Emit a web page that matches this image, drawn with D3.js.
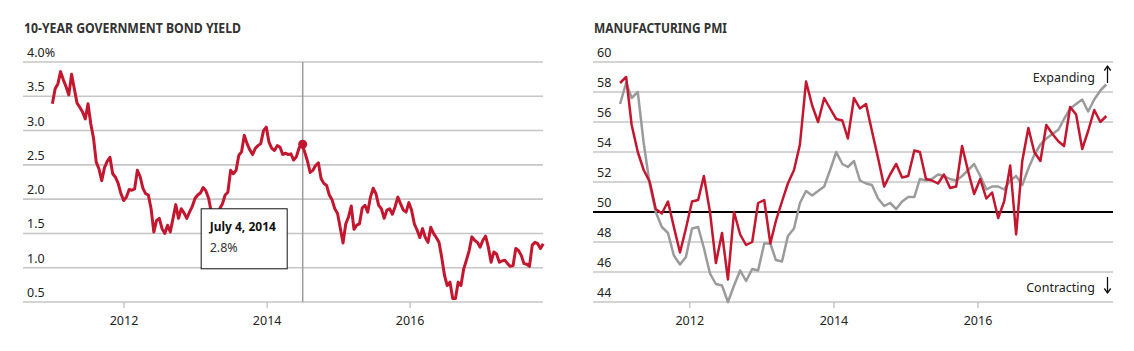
<!DOCTYPE html>
<html>
<head>
<meta charset="utf-8">
<script src="https://cdn.jsdelivr.net/npm/d3@7/dist/d3.min.js"></script>
<style>
  body { margin: 0; background: #fff; }
  svg text { font-family: "Noto Sans", "Open Sans", sans-serif; fill: #222; }
</style>
</head>
<body>
<div id="chart"></div>
<script>
// ---------- data

// 10-year gilt yield, one reading every two weeks from 3 Jan 2011
const yieldStart = "2011-01-03"
const yieldStepDays = 14
const yieldValues = [
  3.39, 3.61, 3.68, 3.86, 3.74, 3.64, 3.52, 3.82, 3.61, 3.40,
  3.34, 3.27, 3.17, 3.39, 3.10, 2.89, 2.54, 2.44, 2.27, 2.46,
  2.55, 2.61, 2.37, 2.32, 2.23, 2.08, 1.98, 2.03, 2.14, 2.13,
  2.15, 2.42, 2.33, 2.16, 2.08, 2.06, 1.86, 1.52, 1.69, 1.72,
  1.57, 1.50, 1.62, 1.52, 1.72, 1.92, 1.72, 1.86, 1.80, 1.72,
  1.81, 1.89, 2.01, 2.06, 2.09, 2.17, 2.12, 2.01, 1.80, 1.68,
  1.72, 1.86, 1.93, 2.06, 2.10, 2.42, 2.37, 2.42, 2.64, 2.69,
  2.93, 2.81, 2.72, 2.65, 2.74, 2.78, 2.81, 3.00, 3.05, 2.83,
  2.74, 2.71, 2.78, 2.76, 2.65, 2.67, 2.65, 2.66, 2.57, 2.62,
  2.75, 2.80, 2.69, 2.56, 2.39, 2.42, 2.49, 2.53, 2.30, 2.23,
  2.20, 2.06, 1.99, 1.86, 1.79, 1.58, 1.36, 1.64, 1.74, 1.90,
  1.56, 1.62, 1.64, 1.87, 1.91, 1.81, 2.03, 2.16, 2.08, 1.91,
  1.86, 1.72, 1.84, 1.86, 1.78, 1.89, 2.03, 1.93, 1.84, 1.81,
  1.95, 1.84, 1.64, 1.55, 1.44, 1.57, 1.44, 1.37, 1.59, 1.50,
  1.44, 1.37, 1.15, 0.89, 0.74, 0.79, 0.55, 0.55, 0.79, 0.74,
  0.98, 1.11, 1.25, 1.45, 1.40, 1.37, 1.30, 1.40, 1.46, 1.30,
  1.08, 1.23, 1.20, 1.08, 1.10, 1.11, 1.06, 1.02, 1.03, 1.28,
  1.25, 1.18, 1.06, 1.05, 1.02, 1.33, 1.37, 1.35, 1.28, 1.35
]
const yieldTicks = [0.5, 1.0, 1.5, 2.0, 2.5, 3.0, 3.5, 4.0]

// highlighted point + tooltip
const highlightDate = "2014-07-04"
const highlightValue = 2.8
const highlightLabel = ["July 4, 2014", "2.8%"]

// manufacturing PMI, monthly Jan 2011 - Oct 2017
const pmiFirstMonth = "2011-01-15"
const pmiRed = [
  58.6, 59.0, 55.8, 54.0, 52.8, 52.0, 50.2, 49.9, 50.7, 49.0, 47.3, 48.9,
  50.7, 50.8, 52.4, 50.0, 46.6, 48.6, 45.5, 50.0, 48.5, 47.8, 48.0, 50.6,
  50.8, 47.9, 49.4, 50.7, 51.9, 52.8, 54.5, 58.7, 57.1, 56.0, 57.6, 56.9,
  56.2, 56.1, 54.9, 57.6, 56.9, 57.2, 55.4, 53.6, 51.7, 52.5, 53.2, 52.3,
  52.4, 54.1, 54.0, 52.2, 52.1, 51.9, 52.5, 51.6, 51.7, 54.4, 52.7, 51.2,
  52.2, 50.9, 51.3, 49.6, 50.7, 53.1, 48.5, 53.4, 55.6, 54.0, 53.4, 55.8,
  55.2, 54.7, 54.4, 57.0, 56.5, 54.2, 55.4, 56.8, 56.0, 56.4
]
const pmiGray = [
  57.2, 58.6, 57.6, 58.0, 54.6, 51.8, 50.0, 49.0, 48.6, 47.1, 46.5, 47.0,
  48.9, 49.0, 47.6, 45.9, 45.2, 45.1, 44.0, 45.1, 46.1, 45.4, 46.2, 46.1,
  47.9, 47.9, 46.8, 46.7, 48.4, 48.9, 50.6, 51.4, 51.1, 51.4, 51.7, 52.8,
  54.0, 53.2, 53.0, 53.4, 52.1, 51.9, 51.8, 50.9, 50.4, 50.6, 50.2, 50.7,
  51.0, 51.0, 52.2, 52.1, 52.2, 52.5, 52.4, 52.2, 52.1, 52.4, 52.8, 53.2,
  52.4, 51.5, 51.7, 51.7, 51.5, 52.1, 52.4, 51.8, 52.9, 53.8, 54.5, 54.9,
  55.2, 55.5, 56.2, 56.9, 57.2, 57.5, 56.7, 57.5, 58.1, 58.5
]
const pmiTicks = [44, 46, 48, 50, 52, 54, 56, 58, 60]
const pmiThreshold = 50

const yearTicks = [2012, 2014, 2016]

// ---------- layout

const width = 1134
const height = 351
const plotTop = 62
const plotBottom = 302
const red = "#c3162f"
const grid = "#c6c6c6"

const parse = d3.timeParse("%Y-%m-%d")

const svg = d3.select("#chart").append("svg")
  .attr("width", width)
  .attr("height", height)

const yieldData = yieldValues.map((v, i) => ({
  date: d3.timeDay.offset(parse(yieldStart), i * yieldStepDays),
  value: v
}))
const pmiDates = d3.range(pmiRed.length).map(i => d3.timeMonth.offset(parse(pmiFirstMonth), i))

function drawPanel(opts) {
  const g = svg.append("g")

  const x = d3.scaleTime().domain(opts.xDomain).range([opts.left, opts.right])
  const y = d3.scaleLinear().domain(opts.yDomain).range([plotBottom, plotTop])

  // title
  g.append("text")
    .attr("x", opts.left + 1)
    .attr("y", 33)
    .attr("font-size", 13.5)
    .attr("font-weight", 700)
    .attr("textLength", opts.titleWidth)
    .attr("lengthAdjust", "spacingAndGlyphs")
    .style("fill", "#333")
    .text(opts.title)

  // gridlines
  g.append("g").selectAll("line")
    .data(opts.ticks)
    .join("line")
    .attr("x1", opts.left).attr("x2", opts.right)
    .attr("y1", d => y(d)).attr("y2", d => y(d))
    .attr("stroke", grid)
    .attr("stroke-width", 1.6)

  // y labels sit above each gridline
  g.append("g").selectAll("text")
    .data(opts.ticks)
    .join("text")
    .attr("x", opts.left + 4)
    .attr("y", d => y(d) - 5)
    .attr("font-size", 12.5)
    .text((d, i) => opts.tickFormat(d, i))

  // x axis
  const xAxis = d3.axisBottom(x)
    .tickValues(yearTicks.map(yr => new Date(yr, 0, 1)))
    .tickSize(6)
    .tickFormat(d3.timeFormat("%Y"))

  const ax = g.append("g")
    .attr("transform", `translate(0,${plotBottom})`)
    .call(xAxis)
  ax.attr("font-family", null)
  ax.select(".domain").remove()
  ax.selectAll(".tick line").attr("stroke", "#bbb").attr("stroke-width", 1.2)
  ax.selectAll(".tick text")
    .attr("y", 14)
    .attr("font-size", 12.5)
    .style("fill", "#222")

  return { g, x, y }
}

// ---------- left: bond yield

const left = drawPanel({
  left: 23, right: 543,
  xDomain: [parse("2010-08-06"), parse("2017-11-12")],
  yDomain: [0.5, 4.0],
  ticks: yieldTicks,
  tickFormat: d => d === 4 ? "4.0%" : d.toFixed(1),
  title: "10-YEAR GOVERNMENT BOND YIELD",
  titleWidth: 217
})

const hx = left.x(parse(highlightDate))
const hy = left.y(highlightValue)

left.g.append("line")
  .attr("x1", hx).attr("x2", hx)
  .attr("y1", plotTop).attr("y2", plotBottom)
  .attr("stroke", "#9a9a9a")
  .attr("stroke-width", 1.5)

left.g.append("path")
  .datum(yieldData)
  .attr("fill", "none")
  .attr("stroke", red)
  .attr("stroke-width", 3)
  .attr("stroke-linejoin", "round")
  .attr("d", d3.line().x(d => left.x(d.date)).y(d => left.y(d.value)))

left.g.append("circle")
  .attr("cx", hx).attr("cy", hy)
  .attr("r", 4.5)
  .attr("fill", red)

// tooltip box
const tip = left.g.append("g")
  .attr("transform", `translate(${hx - 102},${hy + 64})`)
tip.append("rect")
  .attr("x", 0.5).attr("y", 0.5)
  .attr("width", 86).attr("height", 60)
  .attr("fill", "#fff")
  .attr("stroke", "#111")
  .attr("stroke-width", 1)
tip.append("text")
  .attr("x", 9).attr("y", 23)
  .attr("font-size", 12)
  .attr("font-weight", 700)
  .style("fill", "#111")
  .text(highlightLabel[0])
tip.append("text")
  .attr("x", 9).attr("y", 44)
  .attr("font-size", 12.5)
  .style("fill", "#333")
  .text(highlightLabel[1])

// ---------- right: PMI

const right = drawPanel({
  left: 593, right: 1113,
  xDomain: [parse("2010-08-31"), parse("2017-11-18")],
  yDomain: [44, 60],
  ticks: pmiTicks,
  tickFormat: d => d,
  title: "MANUFACTURING PMI",
  titleWidth: 133
})

right.g.append("line")
  .attr("x1", 593).attr("x2", 1113)
  .attr("y1", right.y(pmiThreshold)).attr("y2", right.y(pmiThreshold))
  .attr("stroke", "#000")
  .attr("stroke-width", 2)

const pmiLine = d3.line()
  .x((d, i) => right.x(pmiDates[i]))
  .y(d => right.y(d))

right.g.append("path")
  .datum(pmiGray)
  .attr("fill", "none")
  .attr("stroke", "#9b9b9b")
  .attr("stroke-width", 2.5)
  .attr("stroke-linejoin", "round")
  .attr("d", pmiLine)

right.g.append("path")
  .datum(pmiRed)
  .attr("fill", "none")
  .attr("stroke", red)
  .attr("stroke-width", 2.5)
  .attr("stroke-linejoin", "round")
  .attr("d", pmiLine)

// expanding / contracting notes with thin arrows
function note(label, baseline, dir) {
  right.g.append("text")
    .attr("x", 1095).attr("y", baseline)
    .attr("text-anchor", "end")
    .attr("font-size", 12.5)
    .text(label)
  const ax = 1107.5
  const tipY = dir < 0 ? baseline - 16 : baseline + 1
  const tailY = dir < 0 ? baseline + 1 : baseline - 15
  right.g.append("line")
    .attr("x1", ax).attr("x2", ax)
    .attr("y1", tailY).attr("y2", tipY)
    .attr("stroke", "#111")
    .attr("stroke-width", 1.3)
  right.g.append("path")
    .attr("d", `M${ax - 3.2},${tipY - dir * 4.5}L${ax},${tipY}L${ax + 3.2},${tipY - dir * 4.5}`)
    .attr("fill", "none")
    .attr("stroke", "#111")
    .attr("stroke-width", 1.3)
}
note("Expanding", 82, -1)
note("Contracting", 292, 1)
</script>
</body>
</html>
